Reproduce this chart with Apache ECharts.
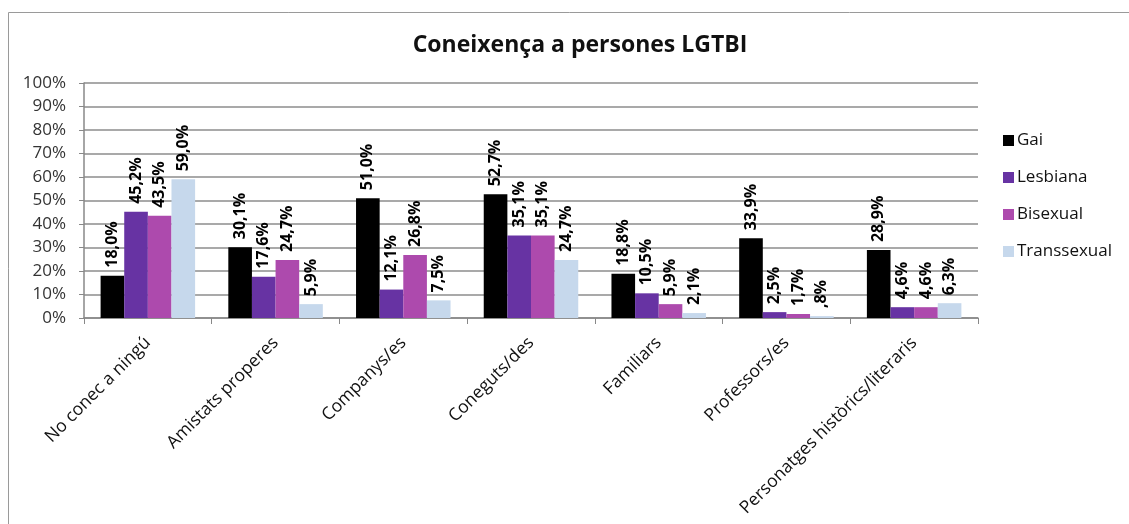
<!DOCTYPE html>
<html>
<head>
<meta charset="utf-8">
<script src="https://cdn.jsdelivr.net/npm/echarts@6/dist/echarts.min.js"></script>
<style>
  html, body { margin: 0; padding: 0; background: #fff; }
  #chart { width: 1129px; height: 524px; }
</style>
</head>
<body>
<div id="chart"></div>
<script>
const categories = ['No conec a ningú', 'Amistats properes', 'Companys/es', 'Coneguts/des', 'Familiars', 'Professors/es', 'Personatges històrics/literaris'];
const gai         = [18.0, 30.1, 51.0, 52.7, 18.8, 33.9, 28.9];
const lesbiana    = [45.2, 17.6, 12.1, 35.1, 10.5, 2.5, 4.6];
const bisexual    = [43.5, 24.7, 26.8, 35.1, 5.9, 1.7, 4.6];
const transsexual = [59.0, 5.9, 7.5, 24.7, 2.1, 0.8, 6.3];
const yTicks = [0, 10, 20, 30, 40, 50, 60, 70, 80, 90, 100];

const font = '"Open Sans", Lato, sans-serif';

// format like the spreadsheet: comma decimal, no leading zero
const fmt = v => {
	let s = v.toFixed(1).replace('.', ',');
	if (s.startsWith('0,')) s = s.slice(1);
	return s + '%';
};

const mkSeries = (name, data, color) => ({
	name,
	type: 'bar',
	data,
	barGap: '0%',
	barCategoryGap: '26%',
	itemStyle: { color },
	label: {
		show: true,
		position: 'top',
		rotate: 90,
		align: 'left',
		verticalAlign: 'middle',
		distance: 8,
		color: '#000',
		fontSize: 16,
		fontWeight: 'bold',
		fontFamily: font,
		formatter: p => fmt(p.value),
	},
});

const chart = echarts.init(document.getElementById('chart'));
chart.setOption({
	animation: false,
	backgroundColor: '#fff',
	graphic: [{
		type: 'rect',
		shape: { x: 8.5, y: 12.5, width: 1200, height: 600 },
		style: { fill: 'none', stroke: '#9a9a9a', lineWidth: 1 },
		silent: true,
	}],
	title: {
		text: 'Coneixença a persones LGTBI',
		left: 575,
		textAlign: 'center',
		top: 29,
		textStyle: { fontSize: 23, fontWeight: 'bold', color: '#111', fontFamily: font },
	},
	legend: {
		orient: 'vertical',
		left: 998,
		top: 127,
		itemWidth: 11,
		itemHeight: 11,
		itemGap: 20,
		icon: 'rect',
		textStyle: { fontSize: 17, color: '#111', fontFamily: font, padding: [0, 0, 0, -2] },
	},
	grid: { left: 84, right: 151, top: 83, bottom: 206 },
	xAxis: {
		type: 'category',
		data: categories,
		axisLine: { lineStyle: { color: '#888', width: 1.5 } },
		axisTick: { show: true, length: 6, lineStyle: { color: '#888' } },
		axisLabel: {
			rotate: 45,
			interval: 0,
			margin: 22,
			fontSize: 17.5,
			color: '#111',
			fontFamily: font,
		},
	},
	yAxis: {
		type: 'value',
		min: 0,
		max: 100,
		interval: 10,
		axisLine: { show: true, lineStyle: { color: '#888', width: 1.5 } },
		axisTick: { show: true, length: 5, lineStyle: { color: '#888' } },
		axisLabel: {
			fontSize: 17,
			color: '#333',
			fontFamily: font,
			margin: 18,
			formatter: v => yTicks.includes(v) ? v + '%' : '',
		},
		splitLine: { lineStyle: { color: '#8c8c8c', width: 1.5 } },
	},
	series: [
		mkSeries('Gai', gai, '#000000'),
		mkSeries('Lesbiana', lesbiana, '#6733a3'),
		mkSeries('Bisexual', bisexual, '#ad4aad'),
		mkSeries('Transsexual', transsexual, '#c6d8ec'),
	],
});
</script>
</body>
</html>
